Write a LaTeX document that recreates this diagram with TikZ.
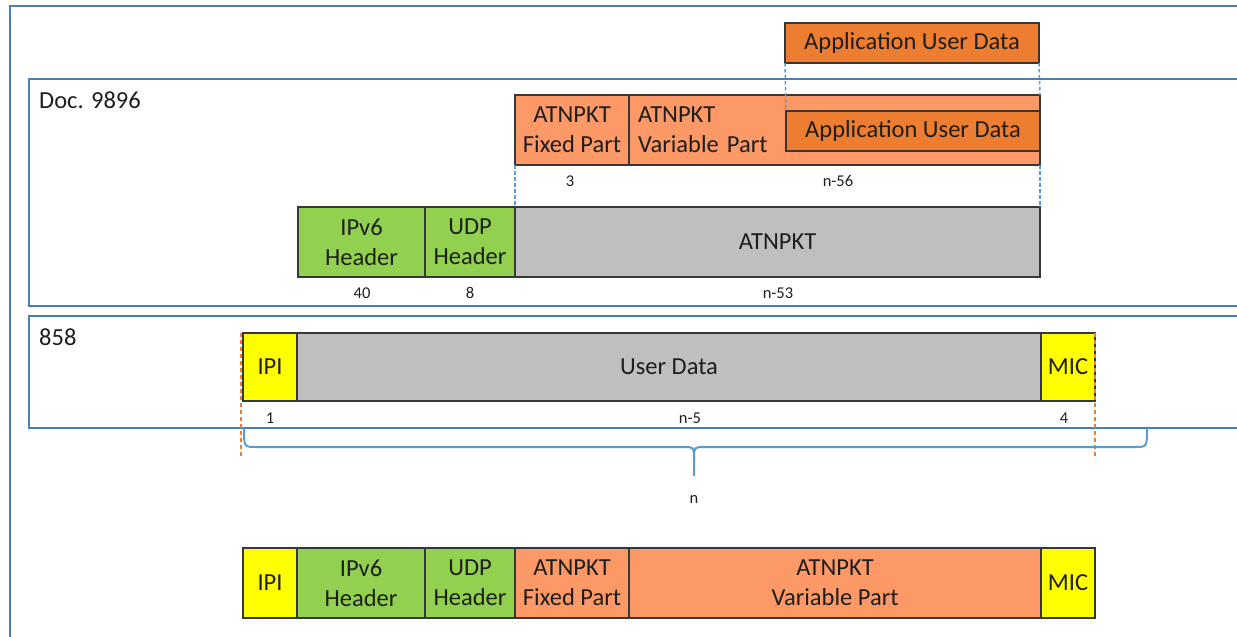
\documentclass[tikz,border=0pt]{standalone}
\usepackage{fontspec}
\setmainfont{Carlito}
\definecolor{frameblue}{RGB}{74,126,187}
\definecolor{lightblue}{RGB}{91,155,213}
\definecolor{darkorange}{RGB}{237,125,49}
\definecolor{lightorange}{RGB}{252,153,102}
\definecolor{pktgreen}{RGB}{146,208,80}
\definecolor{pktgray}{RGB}{191,191,191}
\definecolor{pktyellow}{RGB}{255,255,0}
\definecolor{border}{RGB}{55,55,55}
\definecolor{ink}{RGB}{30,30,30}
\tikzset{
  pkt/.style={draw=border, line width=1.4pt, anchor=north west, inner sep=0pt, outer sep=0pt,
    align=center, text=ink, font=\fontsize{24.5}{30}\selectfont},
  framebox/.style={draw=frameblue, line width=2pt},
  small/.style={text=ink, font=\fontsize{16.5}{19}\selectfont, inner sep=0pt},
  title/.style={text=ink, font=\fontsize{24.5}{29}\selectfont, inner sep=0pt, anchor=west},
  bdash/.style={draw=lightblue, line width=1.5pt, dash pattern=on 3.5pt off 2.5pt},
  odash/.style={draw=darkorange, line width=1.3pt, dash pattern=on 4pt off 3pt},
  bracestyle/.style={draw=lightblue, line width=2pt},
}
\begin{document}
\begin{tikzpicture}[x=1pt,y=-1pt]
\useasboundingbox (0,0) rectangle (1237,637);
\clip (0,0) rectangle (1237,637);
\fill[white] (0,0) rectangle (1237,637);
% frames
\draw[framebox] (10,6) rectangle (1260,660);
\draw[framebox] (29,79) rectangle (1260,306);
\draw[framebox] (29,316) rectangle (1260,428);
\node[title] (doc) at (39,100) {Doc. 9896};
\node[title] (n858) at (39,337) {858};

% top application data
\node[pkt, fill=darkorange, minimum width=254pt, minimum height=40pt] (apptop) at (785,23) {Application User Data};

% ATNPKT row
\node[pkt, fill=lightorange, minimum width=114pt, minimum height=70pt] (fixed) at (515,95) {ATNPKT\\Fixed Part};
\node[pkt, fill=lightorange, minimum height=70pt, text width=393pt, inner xsep=9pt, align=left] (var) at (629,95) {ATNPKT\\Variable Part};
\node[pkt, fill=darkorange, minimum width=254pt, minimum height=40pt] (appin) at (786,111) {Application User Data};
\node[small] (l3) at (570,181) {3};
\node[small] (l56) at (838,181) {n-56};

% IPv6 row
\node[pkt, fill=pktgreen, minimum width=127pt, minimum height=70pt] (ipv6) at (298,207) {IPv6\\Header};
\node[pkt, fill=pktgreen, minimum width=90pt, minimum height=70pt] (udp) at (425,207) {UDP\\Header};
\node[pkt, fill=pktgray, minimum width=525pt, minimum height=70pt] (atnpkt) at (515,207) {ATNPKT};
\node[small] (l40) at (362,293) {40};
\node[small] (l8) at (470,293) {8};
\node[small] (l53) at (778,293) {n-53};

% dashed guides
\draw[bdash] (apptop.south west) -- (appin.north west);
\draw[bdash] (apptop.south east) -- (var.north east);
\draw[bdash] (fixed.south west) -- (atnpkt.north west);
\draw[bdash] (var.south east) -- (atnpkt.north east);

% 858 row
\node[pkt, fill=pktyellow, minimum width=54pt, minimum height=68pt] (ipi) at (243,333) {IPI};
\node[pkt, fill=pktgray, minimum width=744pt, minimum height=68pt] (udata) at (297,333) {User Data};
\node[pkt, fill=pktyellow, minimum width=54pt, minimum height=68pt] (mic) at (1041,333) {MIC};
\node[small] (l1) at (270,418) {1};
\node[small] (l5) at (690,418) {n-5};
\node[small] (l4) at (1064,418) {4};

% orange dashed extents
\coordinate (oL) at (241,457);
\coordinate (oR) at (1095,457);
\draw[odash] (ipi.north west -| oL) -- (oL);
\draw[odash] (mic.north east -| oR) -- (oR);

% brace
\coordinate (bL) at (244,428);
\coordinate (bM) at (694,476);
\coordinate (bR) at (1147,428);
\draw[bracestyle, line join=round] (bL) .. controls (244,447) and (244,447) .. (256,447) -- (683,447)
  .. controls (694,447) and (694,447) .. (694,458) -- (bM);
\draw[bracestyle, line join=round] (694,458) .. controls (694,447) and (694,447) .. (705,447) -- (1135,447)
  .. controls (1147,447) and (1147,447) .. (bR);
\node[small] (ln) at (694,499) {n};

% bottom row
\node[pkt, fill=pktyellow, minimum width=54pt, minimum height=70pt] (bipi) at (243,548) {IPI};
\node[pkt, fill=pktgreen, minimum width=128pt, minimum height=70pt] (bipv6) at (297,548) {IPv6\\Header};
\node[pkt, fill=pktgreen, minimum width=90pt, minimum height=70pt] (budp) at (425,548) {UDP\\Header};
\node[pkt, fill=lightorange, minimum width=114pt, minimum height=70pt] (bfixed) at (515,548) {ATNPKT\\Fixed Part};
\node[pkt, fill=lightorange, minimum width=412pt, minimum height=70pt] (bvar) at (629,548) {ATNPKT\\Variable Part};
\node[pkt, fill=pktyellow, minimum width=54pt, minimum height=70pt] (bmic) at (1041,548) {MIC};
\end{tikzpicture}
\end{document}
